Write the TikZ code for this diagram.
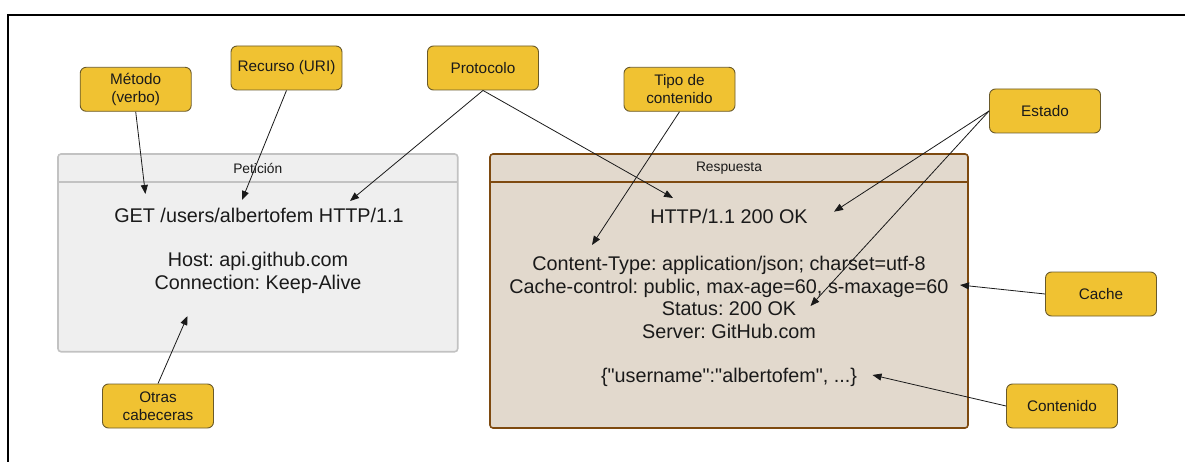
\documentclass[tikz,border=0pt]{standalone}
\usepackage{fontspec}
\setmainfont{Liberation Sans}
% same family without the TeX ligature mapping, so " stays a straight quote
\newfontfamily\rawsans{Liberation Sans}
\usetikzlibrary{arrows.meta}
\definecolor{tagfill}{HTML}{F0C232}
\definecolor{tagline}{HTML}{6A5A2A}
\definecolor{reqfill}{HTML}{EFEFEF}
\definecolor{reqline}{HTML}{C2C2C2}
\definecolor{resfill}{HTML}{E2D9CD}
\definecolor{resline}{HTML}{7E4A10}
\definecolor{ink}{HTML}{1A1A1A}
\frenchspacing
\tikzset{
  tag/.style={draw=tagline, fill=tagfill, rounded corners=6pt, line width=0.9pt,
    minimum width=111pt, minimum height=44pt, inner sep=0pt, align=center,
    text=ink, font=\fontsize{15.3}{18.3}\selectfont},
  msg/.style={inner sep=0pt, text=ink, anchor=center, font=\fontsize{19.8}{22.8}\selectfont},
  head/.style={inner sep=0pt, text=ink, font=\fontsize{13.8}{16}\selectfont},
  pointer/.style={draw=ink, line width=0.8pt, -{Triangle[length=9pt,width=7pt]}},
}
\begin{document}
\begin{tikzpicture}[x=1pt, y=-1pt]
\useasboundingbox (0,0) rectangle (1185,462);
% outer frame (top and left edges)
\draw[line width=2pt, black] (1185,14.7) -- (8.4,14.7) -- (8.4,462);

% request panel
\draw[draw=reqline, fill=reqfill, line width=1.6pt, rounded corners=3pt] (58,154) rectangle (457.7,351.7);
\draw[reqline, line width=1.6pt] (58,182.3) -- (457.7,182.3);
\node[head] (reqtitle) at (257.8,168.5) {Petición};
\node[msg] (getline) at (259,215) {GET /users/albertofem HTTP/1.1};
\node[msg, align=center] (reqheaders) at (258,272.5) {Host: api.github.com\\Connection: Keep-Alive};

% response panel
\draw[draw=resline, fill=resfill, line width=1.6pt, rounded corners=3pt] (490,154) rectangle (968,428);
\draw[resline, line width=1.6pt] (490,182.3) -- (968,182.3);
\node[head] (restitle) at (729,168.5) {Respuesta};
\node[msg] (statusline) at (729,216) {HTTP/1.1 200 OK};
\node[msg, align=center] (resheaders) at (729,297.5) {Content-Type: application/json; charset=utf-8\\Cache-control: public, max-age=60, s-maxage=60\\Status: 200 OK\\Server: GitHub.com};
\node[msg] (body) at (729,377) {\rawsans\{"username":"albertofem", ...\}};

% callout tags
\node[tag] (metodo) at (135.7,89.3) {Método\\(verbo)};
\node[tag] (recurso) at (286.5,68) {Recurso (URI)};
\node[tag] (protocolo) at (483,68) {Protocolo};
\node[tag] (tipo) at (679.5,89.3) {Tipo de\\contenido};
\node[tag] (estado) at (1045,111) {Estado};
\node[tag] (cache) at (1101,294) {Cache};
\node[tag] (contenido) at (1062,406) {Contenido};
\node[tag] (otras) at (158,406) {Otras\\cabeceras};

% pointer targets
\coordinate (pMetodo) at (145.4,194);
\coordinate (pRecurso) at (242,200);
\coordinate (pProtoReq) at (350,201);
\coordinate (pProtoRes) at (673,198);
\coordinate (pTipo) at (592,245);
\coordinate (pEstadoA) at (834,211.7);
\coordinate (pEstadoB) at (810.5,306);
\coordinate (pCache) at (960,285);
\coordinate (pContenido) at (872.5,375);
\coordinate (pOtras) at (187.5,316);

% pointers
\draw[pointer] (metodo.south) -- (pMetodo);
\draw[pointer] (recurso.south) -- (pRecurso);
\draw[pointer] (protocolo.south) -- (pProtoReq);
\draw[pointer] (protocolo.south) -- (pProtoRes);
\draw[pointer] (tipo.south) -- (pTipo);
\draw[pointer] (estado.west) -- (pEstadoA);
\draw[pointer] (estado.west) -- (pEstadoB);
\draw[pointer] (cache.west) -- (pCache);
\draw[pointer] (contenido.west) -- (pContenido);
\draw[pointer] (otras.north) -- (pOtras);
\end{tikzpicture}
\end{document}
